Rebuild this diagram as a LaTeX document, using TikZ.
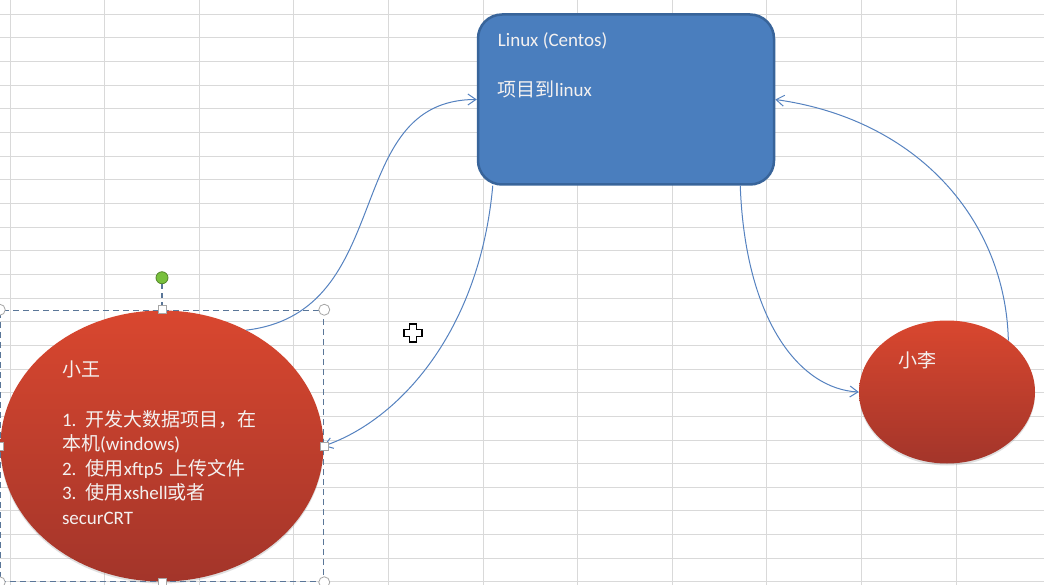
\documentclass[tikz,border=0pt]{standalone}
\usepackage{fontspec}
\setmainfont{Carlito}
\newfontfamily\cjk{Noto Sans CJK SC}
\usetikzlibrary{shapes.geometric, arrows.meta, calc, positioning, fit, shadows}
\newcommand{\zh}[1]{{\cjk #1}}
\definecolor{cellline}{HTML}{D9D9D9}
\definecolor{boxblue}{HTML}{4A7EBE}
\definecolor{boxedge}{HTML}{38649A}
\definecolor{redtop}{HTML}{D9472F}
\definecolor{redbot}{HTML}{A3352A}
\definecolor{arrowblue}{HTML}{5582C0}
\definecolor{textwhite}{HTML}{F4F1F0}
\definecolor{selline}{HTML}{5A7698}
\definecolor{rotgreen}{HTML}{78C03C}

\begin{document}
\begin{tikzpicture}[
    x=1pt, y=-1pt,
    >={Straight Barb[length=8pt,width=11pt]},
    server/.style={rectangle, rounded corners=24pt, draw=boxedge, line width=2.5pt, fill=boxblue, minimum width=296pt, minimum height=170pt},
    user/.style={ellipse, top color=redtop, bottom color=redbot, draw=none, inner sep=0pt, drop shadow={opacity=0.25, shadow xshift=0pt, shadow yshift=-2pt}},
    words/.style={text=textwhite, font=\fontsize{19}{24.6}\selectfont, align=left, inner sep=0pt},
    arrow/.style={->, draw=arrowblue, line width=1pt},
    selbox/.style={rectangle, draw=selline, dash pattern=on 6pt off 4pt, line width=1.1pt},
    handle/.style={circle, draw=gray!70, fill=white, line width=0.8pt, minimum size=11pt, inner sep=0pt},
    grip/.style={rectangle, draw=gray!70, fill=white, line width=0.8pt, minimum size=8pt, inner sep=0pt},
    rotor/.style={circle, draw=rotgreen!70!black, fill=rotgreen, line width=0.8pt, minimum size=12pt, inner sep=0pt}
]
\useasboundingbox (0,0) rectangle (1044,585);
\fill[white] (0,0) rectangle (1044,585);

% 表格背景
\foreach \gx in {0,...,10}
    \draw[cellline, line width=1pt] ({10+94.6*\gx},0) -- ({10+94.6*\gx},585);
\foreach \gy in {0,...,24}
    \draw[cellline, line width=1pt] (0,{14.3+23.65*\gy}) -- (1044,{14.3+23.65*\gy});

% 服务器
\node[server] (linux) at (626,99.5) {};
\node[words, anchor=north west] (linuxtext) at ([shift={(21,19.5)}]linux.north west)
    {Linux (Centos)\\[24.6pt]\zh{项目到}linux};

% 用户
\node[user, minimum width=323pt, minimum height=271pt] (wang) at (162,446) {};
\node[words, text width=200pt] (wangtext) at ([yshift=3pt]wang.center)
    {\zh{小王}\\[24.6pt]
     1. \zh{开发大数据项目，在}\\
     \zh{本机}(windows)\\
     2. \zh{使用}xftp5 \zh{上传文件}\\
     3. \zh{使用}xshell\zh{或者}\\
     securCRT};
\node[user, minimum width=176pt, minimum height=143pt] (li) at (947,392) {};
\node[words] (litext) at (917,360) {\zh{小李}};

% 连接线
\draw[arrow] (wang.54) .. controls +(152,-18) and +(-137,0) .. (linux.west);
\draw[arrow] ([xshift=16pt]linux.south west) .. controls +(-13,145) and +(76,-26) .. (wang.east);
\draw[arrow] ([xshift=-35pt]linux.south east) .. controls +(5,135) and +(-59,-3) .. (li.west);
\draw[arrow] (li.40) .. controls +(-3,-120) and +(143,20) .. (linux.east);

% 选中框
\node[selbox, fit=(wang), inner sep=0pt] (sel) {};
\node[rotor] (rot) at ([yshift=32pt]sel.north) {};
\draw[selline, dash pattern=on 5pt off 4pt, line width=1.1pt] (rot) -- (sel.north);
\foreach \a/\n in {north west/nw, north east/ne, south west/sw, south east/se}
    \node[handle] (h\n) at (sel.\a) {};
\foreach \a/\n in {north/n, south/s, east/e, west/w}
    \node[grip] (g\n) at (sel.\a) {};

% 鼠标
\draw[fill=white, line width=1.2pt, shift={(413,333)}]
    (-3.5,-9) -- (3.5,-9) -- (3.5,-3.5) -- (9,-3.5) -- (9,3.5) -- (3.5,3.5) -- (3.5,9)
    -- (-3.5,9) -- (-3.5,3.5) -- (-9,3.5) -- (-9,-3.5) -- (-3.5,-3.5) -- cycle;

\end{tikzpicture}
\end{document}
